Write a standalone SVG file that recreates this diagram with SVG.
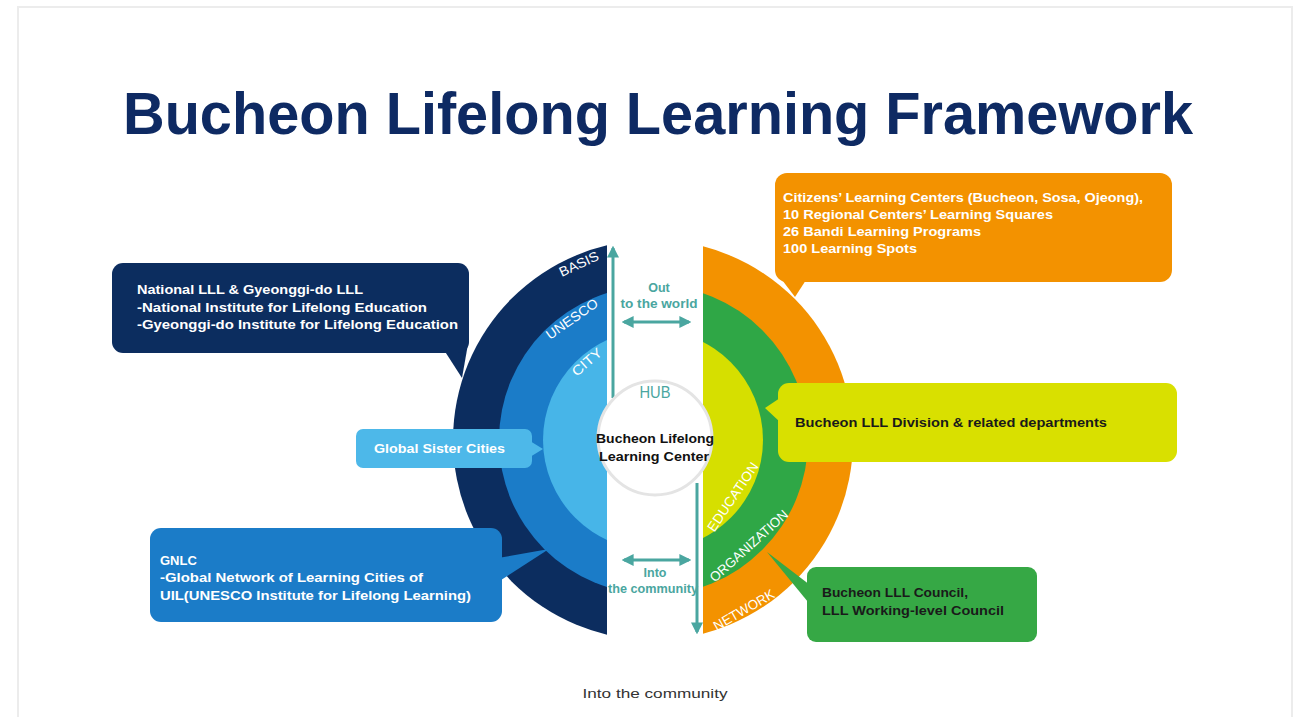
<svg xmlns="http://www.w3.org/2000/svg" width="1303" height="717" viewBox="0 0 1303 717">
<defs>
<style>
.t{font-family:"Liberation Sans",Arial,sans-serif;}
.cw{fill:#ffffff;font-size:13px;font-weight:bold;}
.cb{fill:#1a1a1a;font-size:13px;font-weight:bold;}
.arc{fill:#ffffff;font-size:13.5px;text-anchor:middle;dominant-baseline:central;}
.teal{fill:#4aa6a0;font-size:12.5px;font-weight:bold;text-anchor:middle;}
.conn{stroke:#4aa6a0;stroke-width:3;fill:none;}
</style>
<clipPath id="lc"><rect x="0" y="0" width="607" height="717"/></clipPath>
<clipPath id="rc"><rect x="703" y="0" width="600" height="717"/></clipPath>
<marker id="ah" viewBox="0 0 10 10" refX="8" refY="5" markerWidth="4" markerHeight="4" orient="auto-start-reverse" markerUnits="strokeWidth">
<path d="M0,0 L10,5 L0,10 z" fill="#4aa6a0"/>
</marker>
</defs>
<rect x="0" y="0" width="1303" height="717" fill="#ffffff"/>
<rect x="18" y="7" width="1274" height="730" fill="none" stroke="#ececec" stroke-width="2"/>
<text class="t" x="658" y="134" text-anchor="middle" font-size="60" font-weight="bold" fill="#0e2a63" textLength="1070" lengthAdjust="spacingAndGlyphs">Bucheon Lifelong Learning Framework</text>

<g id="left-rings" clip-path="url(#lc)">
<circle cx="653" cy="440" r="200" fill="#0c2d5f"/>
<circle cx="653" cy="440" r="154" fill="#1b7cc8"/>
<circle cx="653" cy="440" r="110" fill="#47b5e8"/>
</g>
<g id="right-rings" clip-path="url(#rc)">
<circle cx="653" cy="440" r="200" fill="#f39200"/>
<circle cx="653" cy="440" r="155" fill="#2fa746"/>
<circle cx="653" cy="440" r="110" fill="#d6df00"/>
</g>
<g id="ring-labels" class="t">
<text class="arc" transform="translate(579,264) rotate(-25)" textLength="42" lengthAdjust="spacingAndGlyphs">BASIS</text>
<text class="arc" transform="translate(572,319) rotate(-35)" textLength="60" lengthAdjust="spacingAndGlyphs">UNESCO</text>
<text class="arc" transform="translate(587,362) rotate(-41)" textLength="35" lengthAdjust="spacingAndGlyphs">CITY</text>
<text class="arc" transform="translate(733,497) rotate(-56)" textLength="80" lengthAdjust="spacingAndGlyphs">EDUCATION</text>
<text class="arc" transform="translate(749,546) rotate(-42)" textLength="100" lengthAdjust="spacingAndGlyphs">ORGANIZATION</text>
<text class="arc" transform="translate(744,610) rotate(-30)" textLength="68" lengthAdjust="spacingAndGlyphs">NETWORK</text>
</g>

<g id="national">
<polygon points="444,350 468,344 462,378" fill="#0c2d5f"/>
<rect x="112" y="263" width="357" height="90" rx="11" fill="#0c2d5f"/>
<text class="t cw" x="137" y="294" textLength="226" lengthAdjust="spacingAndGlyphs">National LLL &amp; Gyeonggi-do LLL</text>
<text class="t cw" x="137" y="312" textLength="290" lengthAdjust="spacingAndGlyphs">-National Institute for Lifelong Education</text>
<text class="t cw" x="137" y="329" textLength="321" lengthAdjust="spacingAndGlyphs">-Gyeonggi-do Institute for Lifelong Education</text>
</g>
<g id="sister">
<polygon points="530,441 543,449 530,457" fill="#4db8e9"/>
<rect x="356" y="429" width="176" height="39" rx="7" fill="#4db8e9"/>
<text class="t" x="374" y="453" font-size="13" font-weight="bold" fill="#ffffff" textLength="131" lengthAdjust="spacingAndGlyphs">Global Sister Cities</text>
</g>
<g id="gnlc">
<polygon points="498,558 549,549 498,582" fill="#1b7cc8"/>
<rect x="150" y="528" width="352" height="94" rx="11" fill="#1b7cc8"/>
<text class="t cw" x="160" y="565">GNLC</text>
<text class="t cw" x="160" y="582" textLength="263" lengthAdjust="spacingAndGlyphs">-Global Network of Learning Cities of</text>
<text class="t cw" x="160" y="600" textLength="311" lengthAdjust="spacingAndGlyphs">UIL(UNESCO Institute for Lifelong Learning)</text>
</g>
<g id="citizens">
<polygon points="776,272 806,280 795,297" fill="#f39200"/>
<rect x="775" y="173" width="397" height="109" rx="12" fill="#f39200"/>
<text class="t cw" x="783" y="202" textLength="360" lengthAdjust="spacingAndGlyphs">Citizens’ Learning Centers (Bucheon, Sosa, Ojeong),</text>
<text class="t cw" x="783" y="219" textLength="270" lengthAdjust="spacingAndGlyphs">10 Regional Centers’ Learning Squares</text>
<text class="t cw" x="783" y="236" textLength="198" lengthAdjust="spacingAndGlyphs">26 Bandi Learning Programs</text>
<text class="t cw" x="783" y="253" textLength="134" lengthAdjust="spacingAndGlyphs">100 Learning Spots</text>
</g>
<g id="division">
<polygon points="780,398 765,408 780,422" fill="#d9e000"/>
<rect x="778" y="383" width="399" height="79" rx="11" fill="#d9e000"/>
<text class="t cb" x="795" y="427" textLength="312" lengthAdjust="spacingAndGlyphs">Bucheon LLL Division &amp; related departments</text>
</g>
<g id="council">
<polygon points="767,552 810,585 808,602" fill="#36a845"/>
<rect x="807" y="567" width="230" height="75" rx="9" fill="#36a845"/>
<text class="t cb" x="822" y="597" textLength="146" lengthAdjust="spacingAndGlyphs">Bucheon LLL Council,</text>
<text class="t cb" x="822" y="615" textLength="182" lengthAdjust="spacingAndGlyphs">LLL Working-level Council</text>
</g>

<g id="connectors">
<line class="conn" x1="613" y1="398" x2="613" y2="248" marker-end="url(#ah)"/>
<line class="conn" x1="697" y1="483" x2="697" y2="632" marker-end="url(#ah)"/>
<line class="conn" x1="624" y1="322" x2="689" y2="322" marker-start="url(#ah)" marker-end="url(#ah)"/>
<line class="conn" x1="624" y1="560" x2="689" y2="560" marker-start="url(#ah)" marker-end="url(#ah)"/>
</g>

<g id="hub">
<circle cx="655" cy="438" r="57" fill="#ffffff" stroke="#e4e4e4" stroke-width="3"/>
<text class="t" x="655" y="398" text-anchor="middle" font-size="17" fill="#4aa6a0" textLength="31" lengthAdjust="spacingAndGlyphs">HUB</text>
<text class="t" x="655" y="443" text-anchor="middle" font-size="13.5" font-weight="bold" fill="#111111" textLength="118" lengthAdjust="spacingAndGlyphs">Bucheon Lifelong</text>
<text class="t" x="654" y="461" text-anchor="middle" font-size="13.5" font-weight="bold" fill="#111111" textLength="110" lengthAdjust="spacingAndGlyphs">Learning Center</text>
</g>
<g id="flow-labels" class="t">
<text class="teal" x="659" y="292">Out</text>
<text class="teal" x="659" y="308" textLength="77" lengthAdjust="spacingAndGlyphs">to the world</text>
<text class="teal" x="655" y="577">Into</text>
<text class="teal" x="653" y="593" textLength="90" lengthAdjust="spacingAndGlyphs">the community</text>
</g>
<text class="t" x="655" y="698" text-anchor="middle" font-size="13" fill="#333333" textLength="145" lengthAdjust="spacingAndGlyphs">Into the community</text>
</svg>
